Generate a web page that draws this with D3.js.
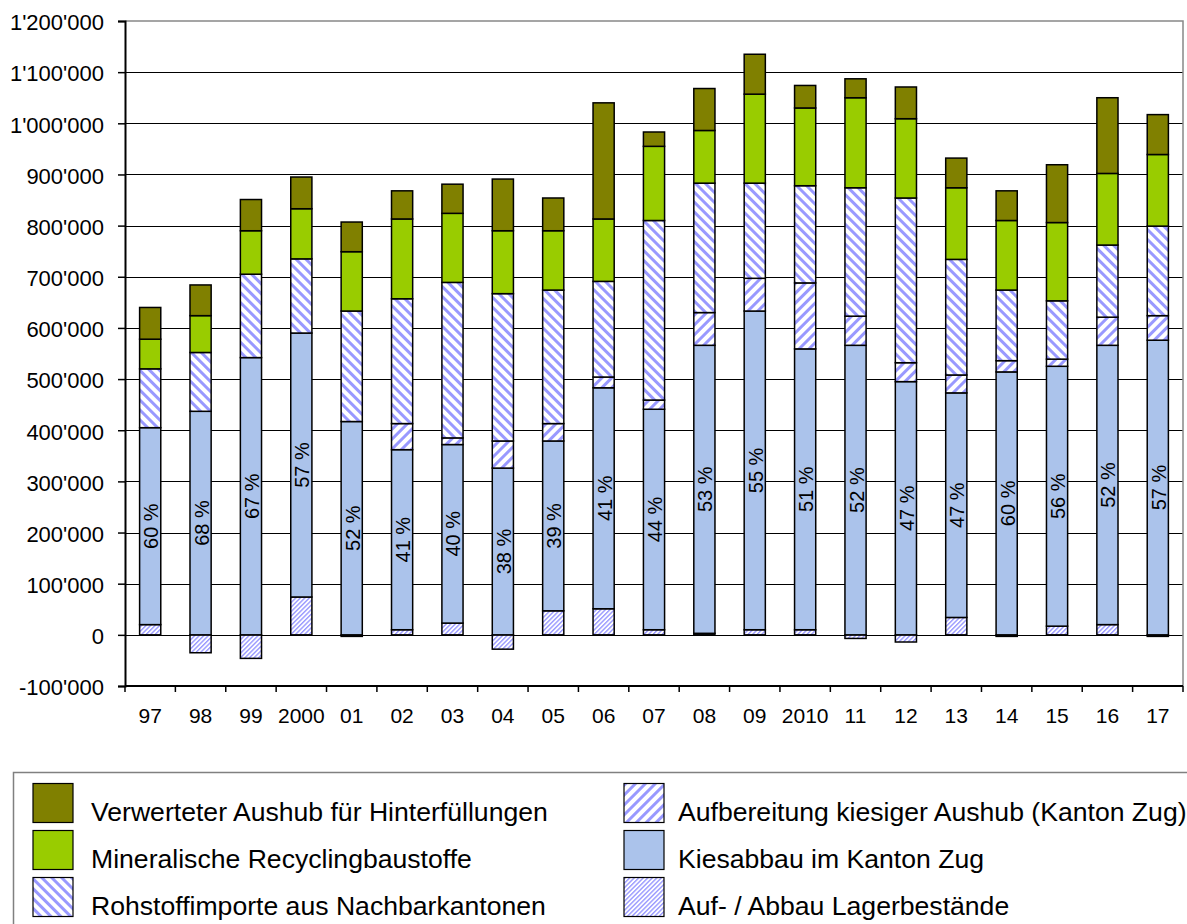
<!DOCTYPE html>
<html>
<head>
<meta charset="utf-8">
<script src="https://cdn.jsdelivr.net/npm/d3@7"></script>
<style>
  body { margin: 0; background: #fff; }
  svg { font-family: "Liberation Sans", Arial, sans-serif; }
</style>
</head>
<body>
<div id="vis"></div>
<script>
// data (tonnes per year)
const YEARS = ["97","98","99","2000","01","02","03","04","05","06","07","08","09","2010","11","12","13","14","15","16","17"];
const LAGER   = [20000,-35000,-46000,74000,-3000,10000,23000,-28000,47000,51000,10000,3000,10000,10000,-7000,-14000,34000,-3000,17000,20000,-3000];
const KIES    = [385000,437000,542000,516000,417000,352000,349000,326000,332000,432000,431000,563000,623000,549000,566000,495000,439000,514000,508000,546000,576000];
const AUFB    = [0,0,0,0,0,51000,13000,53000,34000,21000,18000,64000,64000,129000,57000,37000,35000,22000,14000,55000,48000];
const IMPORT  = [115000,115000,163000,145000,216000,244000,304000,288000,261000,187000,351000,253000,186000,190000,251000,322000,226000,138000,114000,141000,175000];
const RECYC   = [58000,72000,85000,98000,116000,156000,135000,123000,116000,122000,145000,103000,174000,152000,176000,155000,140000,136000,153000,140000,140000];
const AUSHUB  = [62000,60000,61000,62000,58000,55000,57000,101000,64000,227000,28000,82000,78000,44000,37000,62000,58000,58000,113000,148000,78000];
const PERCENT_LABELS = ["60 %","68 %","67 %","57 %","52 %","41 %","40 %","38 %","39 %","41 %","44 %","53 %","55 %","51 %","52 %","47 %","47 %","60 %","56 %","52 %","57 %"];
const Y_TICKS = [-100000,0,100000,200000,300000,400000,500000,600000,700000,800000,900000,1000000,1100000,1200000];

const SERIES_KEYS = ["lager","kies","aufb","import","recyc","aushub"];
const SERIES_NAMES = {
  aushub: "Verwerteter Aushub für Hinterfüllungen",
  recyc: "Mineralische Recyclingbaustoffe",
  import: "Rohstoffimporte aus Nachbarkantonen",
  aufb: "Aufbereitung kiesiger Aushub (Kanton Zug)",
  kies: "Kiesabbau im Kanton Zug",
  lager: "Auf- / Abbau Lagerbestände"
};
const FILLS = {
  aushub: "#808000",
  recyc: "#99cc00",
  import: "url(#pat-import)",
  aufb: "url(#pat-aufb)",
  kies: "#abc3eb",
  lager: "url(#pat-lager)"
};

// frame
const FRAME_WIDTH = 1187;
const FRAME_HEIGHT = 924;
const MARGINS = {left: 125, right: 4, top: 21, bottom: 238};
const VIS_WIDTH = FRAME_WIDTH - MARGINS.left - MARGINS.right;
const VIS_HEIGHT = FRAME_HEIGHT - MARGINS.top - MARGINS.bottom;

const FRAME = d3.select("#vis")
  .append("svg")
  .attr("width", FRAME_WIDTH)
  .attr("height", FRAME_HEIGHT);

// hatch patterns
const defs = FRAME.append("defs");
function hatch(id, size, stripe, angle) {
  const p = defs.append("pattern")
    .attr("id", id)
    .attr("patternUnits", "userSpaceOnUse")
    .attr("width", size)
    .attr("height", size)
    .attr("patternTransform", "rotate(" + angle + ")");
  p.append("rect").attr("width", size).attr("height", size).attr("fill", "#fff");
  p.append("rect").attr("width", stripe).attr("height", size).attr("fill", "#9999ff");
}
hatch("pat-import", 7, 3, -45);
hatch("pat-aufb", 7, 3, 45);
hatch("pat-lager", 3.2, 1.4, 45);

// table for the stack
const table = YEARS.map((y, i) => ({
  year: y, lager: LAGER[i], kies: KIES[i], aufb: AUFB[i],
  import: IMPORT[i], recyc: RECYC[i], aushub: AUSHUB[i]
}));
const stacked = d3.stack()
  .keys(SERIES_KEYS)
  .offset(d3.stackOffsetDiverging)(table);

// scales
const X_SCALE = d3.scaleBand()
  .domain(YEARS)
  .range([0, VIS_WIDTH]);
const BAR_W = X_SCALE.bandwidth() * 0.42;
const BAR_OFF = (X_SCALE.bandwidth() - BAR_W) / 2;

const Y_SCALE = d3.scaleLinear()
  .domain([-100000, 1200000])
  .range([VIS_HEIGHT, 0]);

const locale = d3.formatLocale({decimal: ".", thousands: "'", grouping: [3], currency: ["", ""], minus: "-"});
const fmt = locale.format(",");

const plot = FRAME.append("g")
  .attr("transform", "translate(" + MARGINS.left + "," + MARGINS.top + ")");

// gridlines
plot.selectAll(".grid")
  .data(Y_TICKS.filter(v => v > -100000 && v < 1200000))
  .enter()
  .append("line")
  .attr("x1", 0)
  .attr("x2", VIS_WIDTH)
  .attr("y1", d => Math.round(Y_SCALE(d)) + 0.5)
  .attr("y2", d => Math.round(Y_SCALE(d)) + 0.5)
  .attr("stroke", "#000")
  .attr("stroke-width", 1.2);

// plot area border (top and right)
plot.append("path")
  .attr("d", "M0," + Y_SCALE(1200000) + "H" + VIS_WIDTH + "V" + VIS_HEIGHT)
  .attr("fill", "none")
  .attr("stroke", "#888")
  .attr("stroke-width", 1.5);

// bars
plot.selectAll(".series")
  .data(stacked)
  .enter()
  .append("g")
  .attr("fill", d => FILLS[d.key])
  .selectAll("rect")
  .data(d => d.filter(s => s[1] !== s[0]))
  .enter()
  .append("rect")
  .attr("x", d => X_SCALE(d.data.year) + BAR_OFF)
  .attr("y", d => Y_SCALE(Math.max(d[0], d[1])))
  .attr("width", BAR_W)
  .attr("height", d => Math.abs(Y_SCALE(d[0]) - Y_SCALE(d[1])))
  .attr("stroke", "#000")
  .attr("stroke-width", 1.5);

// percentage labels inside Kiesabbau
const kiesLayer = stacked.find(s => s.key === "kies");
plot.selectAll(".pct")
  .data(kiesLayer)
  .enter()
  .append("text")
  .attr("transform", (d, i) => "translate(" + (X_SCALE(d.data.year) + X_SCALE.bandwidth() / 2 + 1) + ","
    + Y_SCALE((d[0] + d[1]) / 2) + ") rotate(-90)")
  .attr("text-anchor", "middle")
  .attr("dy", "0.35em")
  .attr("font-size", "20px")
  .attr("fill", "#000")
  .text((d, i) => PERCENT_LABELS[i]);

// x-axis
const xAxis = plot.append("g")
  .attr("transform", "translate(0," + VIS_HEIGHT + ")")
  .call(d3.axisBottom(X_SCALE).tickSize(0).tickPadding(22));
xAxis.select(".domain").remove();
xAxis.selectAll("text").attr("font-size", "21px").attr("fill", "#000");

// x tick marks at band edges
plot.selectAll(".xtick")
  .data(d3.range(YEARS.length + 1))
  .enter()
  .append("line")
  .attr("x1", i => i * X_SCALE.step())
  .attr("x2", i => i * X_SCALE.step())
  .attr("y1", VIS_HEIGHT)
  .attr("y2", VIS_HEIGHT + 6)
  .attr("stroke", "#000")
  .attr("stroke-width", 1.5);

plot.append("line")
  .attr("x1", 0).attr("x2", VIS_WIDTH)
  .attr("y1", VIS_HEIGHT).attr("y2", VIS_HEIGHT)
  .attr("stroke", "#000")
  .attr("stroke-width", 2);

// y-axis
const yAxis = plot.append("g")
  .call(d3.axisLeft(Y_SCALE).tickValues(Y_TICKS).tickFormat(fmt).tickSize(7).tickPadding(14));
yAxis.select(".domain").attr("stroke-width", 2);
yAxis.selectAll(".tick line").attr("stroke-width", 1.5);
yAxis.selectAll("text").attr("font-size", "22px").attr("fill", "#000").attr("dy", "0.4em");

// legend
const LEGEND_LEFT = ["aushub", "recyc", "import"];
const LEGEND_RIGHT = ["aufb", "kies", "lager"];

FRAME.append("rect")
  .attr("x", 13.5)
  .attr("y", 772.5)
  .attr("width", 1300)
  .attr("height", 300)
  .attr("fill", "#fff")
  .attr("stroke", "#808080")
  .attr("stroke-width", 1.5);

function legendCol(keys, x0, tx) {
  const g = FRAME.append("g");
  const item = g.selectAll("g")
    .data(keys)
    .enter()
    .append("g")
    .attr("transform", (d, i) => "translate(0," + (783.5 + i * 47) + ")");
  item.append("rect")
    .attr("x", x0)
    .attr("y", 0)
    .attr("width", 40)
    .attr("height", 39)
    .attr("fill", d => FILLS[d])
    .attr("stroke", "#000")
    .attr("stroke-width", 1.2);
  item.append("text")
    .attr("x", tx)
    .attr("y", 37)
    .attr("font-size", "26.6px")
    .attr("fill", "#000")
    .text(d => SERIES_NAMES[d]);
}
legendCol(LEGEND_LEFT, 33, 91);
legendCol(LEGEND_RIGHT, 624, 678);
</script>
</body>
</html>
